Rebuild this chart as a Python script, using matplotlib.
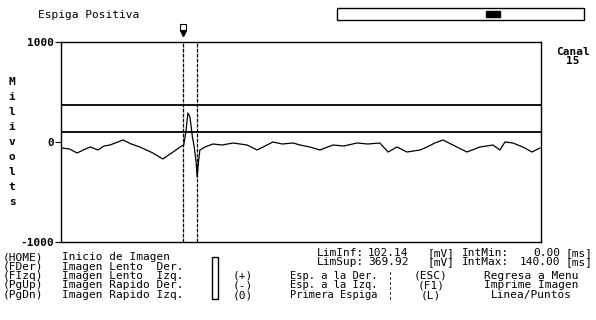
"""Espiga Positiva screen: one channel trace with limit lines and cursor."""
import matplotlib

matplotlib.use("Agg")
import matplotlib.pyplot as plt  # noqa: E402
from matplotlib.patches import Rectangle  # noqa: E402

W, H = 596, 320
MONO = "DejaVu Sans Mono"

# trace: time (ms) and amplitude (mV)
t_ms = [0.3, 2.5, 4.7, 6.5, 8.5, 10.8, 12.5, 14.3, 18.1, 20.5, 23.0, 26.8,
        29.7, 32.7, 34.7, 35.8, 36.5, 37.0, 37.6, 38.3, 38.9, 39.4, 39.7,
        40.1, 40.5, 42.0, 44.3, 47.0, 50.2, 54.3, 57.2, 59.5, 61.8, 64.5,
        67.7, 69.7, 72.6, 75.5, 79.3, 82.5, 86.3, 89.5, 93.0, 95.4, 98.0,
        100.9, 104.7, 106.8, 109.0, 111.4, 114.3, 118.4, 122.2, 126.0, 128.0,
        129.5, 131.8, 134.7, 137.4, 139.7]
mv = [-60, -70, -110, -80, -50, -80, -40, -30, 20, -20, -50, -110,
      -170, -100, -50, -30, 120, 290, 250, 60, -60, -200, -350,
      -200, -80, -50, -20, -30, -10, -30, -80, -40, 0, -20,
      -10, -30, -50, -80, -30, -40, -10, -20, -10, -100, -50,
      -100, -80, -50, -10, 20, -30, -100, -50, -30, -80,
      0, -10, -50, -100, -60]

lim_inf = 102.14
lim_sup = 369.92
int_min = 0.00
int_max = 140.00
cursor_ms = [35.6, 39.7]
channel = 15
y_ticks = [1000, 0, -1000]

menu_keys = ["(HOME)", "(FDer)", "(FIzq)", "(PgUp)", "(PgDn)"]
menu_text = ["Inicio de Imagen", "Imagen Lento  Der.", "Imagen Lento  Izq.",
             "Imagen Rapido Der.", "Imagen Rapido Izq."]
mid_keys = ["(+)", "(-)", "(0)"]
mid_text = ["Esp. a la Der.", "Esp. a la Izq.", "Primera Espiga"]
right_keys = ["(ESC)", "(F1)", "(L)"]
right_text = ["Regresa a Menu", "Imprime Imagen", "Linea/Puntos"]


def fx(x):
    return x / W


def fy(y):
    return 1 - y / H


def label(x, y, s, **kw):
    kw.setdefault("fontsize", 8)
    fig.text(fx(x), fy(y), s, family=MONO, va="center", **kw)


fig = plt.figure(figsize=(W / 100, H / 100), dpi=100)
fig.patch.set_facecolor("white")
ax = fig.add_axes([fx(61), fy(242), 480 / W, 200 / H])

ax.plot(t_ms, mv, color="black", lw=0.9)
ax.axhline(lim_sup, color="black", lw=1.3)
ax.axhline(lim_inf, color="black", lw=1.3)
for c in cursor_ms:
    ax.axvline(c, color="black", lw=0.9, ls=(0, (3, 1)))
ax.plot([cursor_ms[0]], [1095], marker="v", color="black", ms=5, clip_on=False)
ax.plot([cursor_ms[0]], [1150], marker="s", mfc="white", mec="black", ms=4.5,
        mew=0.8, clip_on=False)

ax.set_xlim(int_min, int_max)
ax.set_ylim(-1000, 1000)
ax.set_xticks([])
ax.set_yticks(y_ticks)
ax.set_yticklabels([str(v) for v in y_ticks], family=MONO, fontsize=8,
                   fontweight="bold")
ax.tick_params(axis="y", length=4, width=0.8, pad=1)
ax.spines["left"].set_linestyle((0, (2, 1)))
ax.spines["right"].set_linestyle((0, (4, 1)))
for s in ax.spines.values():
    s.set_linewidth(1.0)

# header
label(38, 15, "Espiga Positiva")
fig.patches.append(Rectangle((fx(337), fy(20)), 247 / W, 12 / H, fill=False,
                             ec="black", lw=1.0, transform=fig.transFigure))
fig.patches.append(Rectangle((fx(486), fy(17)), 14 / W, 6 / H, fc="black",
                             ec="black", transform=fig.transFigure))
label(573, 52, "Canal", fontweight="bold", ha="center")
label(573, 61, str(channel), fontweight="bold", ha="center")

# vertical axis label, one letter per row
for i, ch in enumerate("Milivolts"):
    label(12, 82 + 15 * i, ch, fontweight="bold", ha="center")

# limits and interval readout
label(317, 253, "LimInf:")
label(317, 262, "LimSup:")
label(368, 253, f"{lim_inf:.2f}")
label(368, 262, f"{lim_sup:.2f}")
label(427, 253, "[mV]")
label(427, 262, "[mV]")
label(462, 253, "IntMin:")
label(462, 262, "IntMax:")
label(560, 253, f"{int_min:.2f}", ha="right")
label(560, 262, f"{int_max:.2f}", ha="right")
label(566, 253, "[ms]")
label(566, 262, "[ms]")

# key menu
row_y = [257, 266.5, 276, 285.5, 295]
for i, (k, t) in enumerate(zip(menu_keys, menu_text)):
    label(3, row_y[i], k)
    label(62, row_y[i], t)
fig.patches.append(Rectangle((fx(212), fy(299)), 6 / W, 42 / H, fill=False,
                             ec="black", lw=1.0, transform=fig.transFigure))
for i in range(3):
    y = row_y[i + 2]
    label(243, y, mid_keys[i], ha="center")
    label(334, y, mid_text[i], ha="center", fontsize=7.5)
    label(390, y, "¦", ha="center", fontsize=6)
    label(431, y, right_keys[i], ha="center")
    label(531, y, right_text[i], ha="center")

fig.savefig("out.png", dpi=100)
